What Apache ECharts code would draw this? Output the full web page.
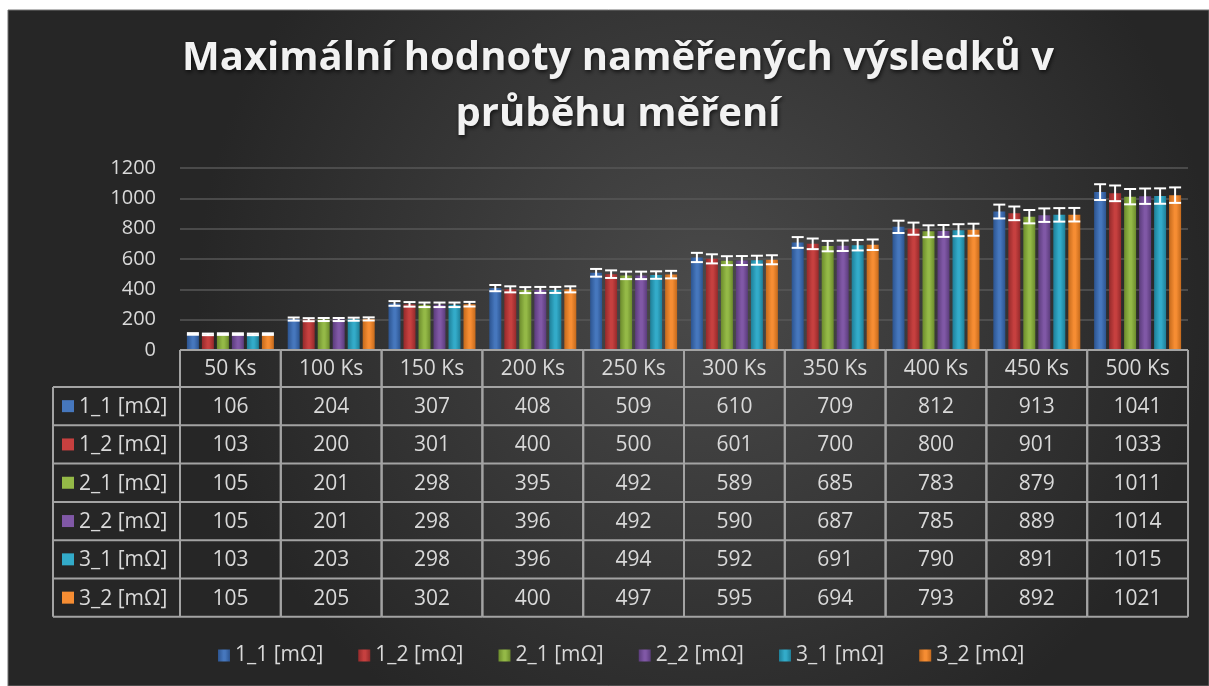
<!DOCTYPE html>
<html><head><meta charset="utf-8">
<script src="https://cdn.jsdelivr.net/npm/echarts@6/dist/echarts.min.js"></script>
<style>html,body{margin:0;padding:0;background:#fff;}#c{width:1209px;height:686px;}</style>
</head><body><div id="c"></div>
<script>
const titleText = 'Maximální hodnoty naměřených výsledků v\nprůběhu měření';
const categories = ['50 Ks','100 Ks','150 Ks','200 Ks','250 Ks','300 Ks','350 Ks','400 Ks','450 Ks','500 Ks'];
const seriesNames = ['1_1 [mΩ]','1_2 [mΩ]','2_1 [mΩ]','2_2 [mΩ]','3_1 [mΩ]','3_2 [mΩ]'];
const s11 = [106,204,307,408,509,610,709,812,913,1041];
const s12 = [103,200,301,400,500,601,700,800,901,1033];
const s21 = [105,201,298,395,492,589,685,783,879,1011];
const s22 = [105,201,298,396,492,590,687,785,889,1014];
const s31 = [103,203,298,396,494,592,691,790,891,1015];
const s32 = [105,205,302,400,497,595,694,793,892,1021];
const seriesData = [s11,s12,s21,s22,s31,s32];
const errorPct = 0.05;
const yTicks = [0,200,400,600,800,1000,1200];

const baseColors = ['#4677bd','#c6403f','#94b947','#8058a6','#33abc9','#f68d33'];
const edgeColors = ['#2c5490','#952a2b','#6c8c2c','#5b3c7c','#1e7f98','#c56a1c'];

const chart = echarts.init(document.getElementById('c'));
const BAR_W = 12, BAR_GAP = 3;
const LABEL_COL_W = 127, HEADER_H = 37, ROW_H = 38.3;
const lineColor = '#a3a3a3';
const textColor = '#d9d9d9';
const FONT = '"Open Sans", sans-serif';
const TFONT = '21px ' + FONT;

function barColor(i){
  return {type:'linear',x:0,y:0,x2:1,y2:0,colorStops:[
    {offset:0,color:edgeColors[i]},{offset:0.45,color:baseColors[i]},
    {offset:0.6,color:baseColors[i]},{offset:1,color:edgeColors[i]}]};
}

const series = [];
seriesData.forEach((d,i)=>{
  series.push({
    name: seriesNames[i], type:'bar', data:d, barWidth:BAR_W, barGap:(BAR_GAP/BAR_W*100)+'%',
    itemStyle:{color:barColor(i)}, z:2
  });
});
// error bars
seriesData.forEach((d,i)=>{
  series.push({
    type:'custom', name: seriesNames[i]+'_err', silent:true, z:3,
    data: d.map((v,k)=>[k, v*(1-errorPct), v*(1+errorPct)]),
    renderItem(params, api){
      const k = api.value(0);
      const lo = api.coord([k, api.value(1)]);
      const hi = api.coord([k, api.value(2)]);
      const x = lo[0] + (i-2.5)*(BAR_W+BAR_GAP);
      const hw = BAR_W/2;
      const st = {stroke:'#ffffff', lineWidth:2};
      return {type:'group', children:[
        {type:'line', shape:{x1:x,y1:lo[1],x2:x,y2:hi[1]}, style:st},
        {type:'line', shape:{x1:x-hw,y1:lo[1],x2:x+hw,y2:lo[1]}, style:st},
        {type:'line', shape:{x1:x-hw,y1:hi[1],x2:x+hw,y2:hi[1]}, style:st}
      ]};
    }
  });
});
// data table
series.push({
  type:'custom', name:'table', silent:true, z:4, clip:false,
  data: categories.map((c,k)=>[k,0]),
  renderItem(params, api){
    const k = api.value(0);
    const p = api.coord([k,0]);
    const bw = api.size([1,0])[0];
    const cx = p[0], y0 = p[1];
    const xl = cx - bw/2, xr = cx + bw/2;
    const yb = y0 + HEADER_H + 6*ROW_H;
    const ls = {stroke:lineColor, lineWidth:2};
    const ch = [];
    ch.push({type:'line', shape:{x1:xl,y1:y0,x2:xl,y2:yb}, style:ls});
    ch.push({type:'line', shape:{x1:xr,y1:y0,x2:xr,y2:yb}, style:ls});
    ch.push({type:'line', shape:{x1:xl,y1:y0,x2:xr,y2:y0}, style:ls});
    for(let r=0;r<=6;r++){
      const y = y0+HEADER_H+r*ROW_H;
      ch.push({type:'line', shape:{x1:xl,y1:y,x2:xr,y2:y}, style:ls});
    }
    ch.push({type:'text', style:{text:categories[k], x:cx, y:y0+HEADER_H/2+1, align:'center', verticalAlign:'middle', fill:textColor, font:TFONT}});
    for(let r=0;r<6;r++){
      ch.push({type:'text', style:{text:String(seriesData[r][k]), x:cx, y:y0+HEADER_H+(r+0.5)*ROW_H+1, align:'center', verticalAlign:'middle', fill:textColor, font:TFONT}});
    }
    if(k===0){
      const lx = xl - LABEL_COL_W;
      ch.push({type:'line', shape:{x1:lx,y1:y0+HEADER_H,x2:lx,y2:yb}, style:ls});
      for(let r=0;r<=6;r++){
        const y = y0+HEADER_H+r*ROW_H;
        ch.push({type:'line', shape:{x1:lx,y1:y,x2:xl,y2:y}, style:ls});
      }
      for(let r=0;r<6;r++){
        const yc = y0+HEADER_H+(r+0.5)*ROW_H;
        ch.push({type:'rect', shape:{x:lx+9,y:yc-6,width:12,height:12}, style:{fill:baseColors[r]}});
        ch.push({type:'text', style:{text:seriesNames[r], x:lx+26, y:yc+1, align:'left', verticalAlign:'middle', fill:textColor, font:TFONT}});
      }
    }
    return {type:'group', children:ch};
  }
});

chart.setOption({
  animation:false,
  graphic:[{type:'rect', z:-10, shape:{x:8,y:10,width:1201,height:676},
    style:{fill:{type:'radial',x:0.58,y:0.42,r:0.75,colorStops:[{offset:0,color:'#4a4a4a'},{offset:1,color:'#262626'}]},
    stroke:'#707070', lineWidth:1}}],
  title:{text:titleText, left:613, textAlign:'center', top:26,
    textStyle:{color:'#f2f2f2', fontSize:40, fontWeight:'bold', fontFamily:FONT, lineHeight:56,
      textShadowColor:'rgba(0,0,0,0.7)', textShadowBlur:4, textShadowOffsetX:1, textShadowOffsetY:2}},
  legend:{data:seriesNames, top:640, left:213, icon:'rect', itemWidth:12, itemHeight:12, itemGap:35,
    textStyle:{color:textColor, fontSize:21, fontFamily:FONT}},
  grid:{left:180, right:21, top:168, bottom:336, containLabel:false},
  xAxis:{type:'category', data:categories, axisLabel:{show:false}, axisTick:{show:false}, axisLine:{show:false}},
  yAxis:{type:'value', min:yTicks[0], max:yTicks[yTicks.length-1], interval:200,
    axisLabel:{color:textColor, fontSize:20, fontFamily:FONT, margin:24, formatter:v=>String(v)},
    axisLine:{show:false}, axisTick:{show:false},
    splitLine:{lineStyle:{color:'#575757', width:1.5}}},
  series
});
</script></body></html>
